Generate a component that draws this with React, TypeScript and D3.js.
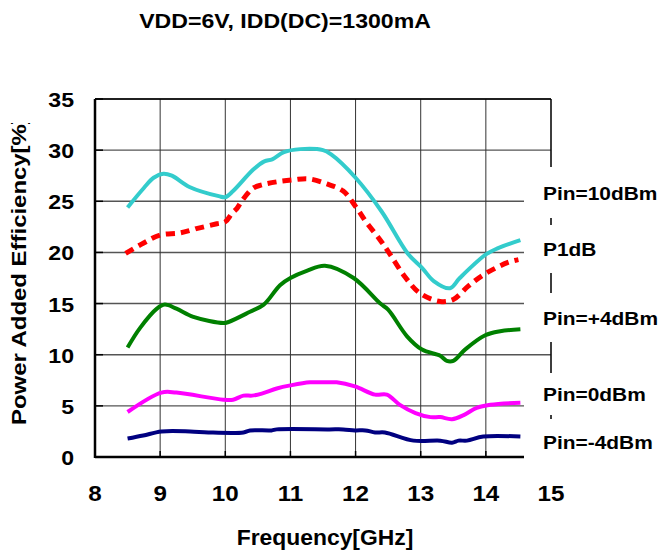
import React from "react";
import * as d3 from "d3";

const title = "VDD=6V, IDD(DC)=1300mA";
const xTitle = "Frequency[GHz]";
const yTitle = "Power Added Efficiency[%]";
const xTicks = [8, 9, 10, 11, 12, 13, 14, 15];
const yTicks = [0, 5, 10, 15, 20, 25, 30, 35];

const pin10F = [8.5, 8.75, 8.9, 9.05, 9.18, 9.45, 9.9, 10.0, 10.12, 10.43, 10.6, 10.72, 10.9, 11.15, 11.5, 11.62, 12.0, 12.4, 12.8, 13.02, 13.2, 13.45, 13.6, 14.0, 14.18, 14.53];
const pin10V = [24.4, 26.3, 27.3, 27.7, 27.5, 26.4, 25.5, 25.4, 26.0, 28.1, 28.9, 29.1, 29.8, 30.1, 30.0, 29.6, 27.3, 24.0, 19.9, 18.5, 17.2, 16.5, 17.5, 19.8, 20.4, 21.2];

const p1dbF = [8.47, 8.74, 9.0, 9.3, 9.54, 9.87, 10.0, 10.1, 10.18, 10.25, 10.43, 10.56, 10.79, 11.05, 11.28, 11.56, 11.81, 12.0, 12.17, 12.38, 12.53, 12.76, 12.99, 13.3, 13.5, 13.73, 13.96, 14.33, 14.5];
const p1dbV = [19.9, 20.9, 21.7, 21.9, 22.3, 22.8, 23.0, 23.8, 24.3, 25.0, 26.3, 26.6, 26.9, 27.1, 27.2, 26.7, 26.0, 24.5, 22.9, 21.2, 19.8, 17.6, 16.0, 15.2, 15.4, 16.7, 17.8, 19.0, 19.3];

const pin4F = [8.5, 8.69, 8.95, 9.07, 9.25, 9.51, 9.97, 10.05, 10.38, 10.59, 10.84, 11.0, 11.25, 11.53, 11.97, 12.38, 12.5, 12.79, 13.02, 13.3, 13.4, 13.5, 13.68, 13.99, 14.22, 14.53];
const pin4V = [10.7, 12.6, 14.5, 14.9, 14.5, 13.7, 13.1, 13.2, 14.2, 14.9, 16.8, 17.5, 18.2, 18.7, 17.5, 15.0, 14.4, 11.8, 10.5, 9.9, 9.4, 9.4, 10.5, 11.9, 12.3, 12.5];

const pin0F = [8.5, 9.02, 9.25, 9.97, 10.12, 10.28, 10.41, 10.56, 10.79, 11.0, 11.3, 11.58, 11.71, 11.99, 12.3, 12.48, 12.68, 12.92, 13.15, 13.3, 13.48, 13.66, 13.86, 14.07, 14.53];
const pin0V = [4.4, 6.3, 6.3, 5.6, 5.6, 6.0, 6.0, 6.2, 6.7, 7.0, 7.3, 7.3, 7.3, 6.9, 6.1, 6.1, 5.1, 4.3, 3.9, 3.9, 3.7, 4.1, 4.8, 5.1, 5.3];

const pinM4F = [8.5, 8.74, 9.02, 9.46, 9.74, 10.28, 10.38, 10.71, 10.79, 11.6, 11.81, 11.99, 12.15, 12.3, 12.45, 12.89, 13.3, 13.48, 13.58, 13.71, 13.96, 14.53];
const pinM4V = [1.8, 2.1, 2.5, 2.5, 2.4, 2.4, 2.6, 2.6, 2.7, 2.7, 2.7, 2.6, 2.6, 2.4, 2.4, 1.6, 1.6, 1.4, 1.6, 1.6, 2.0, 2.0];

const seriesNames = ["Pin=10dBm", "P1dB", "Pin=+4dBm", "Pin=0dBm", "Pin=-4dBm"];

const W = 661;
const H = 551;
const FONT = "Arial, 'Liberation Sans', Helvetica, sans-serif";

export default function App() {
  const x = d3.scaleLinear().domain([8, 15]).range([95, 551]);
  const y = d3.scaleLinear().domain([0, 35]).range([457, 99]);
  const line = d3
    .line<[number, number]>()
    .x((d) => x(d[0]))
    .y((d) => y(d[1]))
    .curve(d3.curveCatmullRom.alpha(0.5));
  const zip = (f: number[], v: number[]) => f.map((fi, i) => [fi, v[i]] as [number, number]);

  const series = [
    { name: seriesNames[0], data: zip(pin10F, pin10V), color: "#33CCCC", width: 4, dash: undefined as string | undefined },
    { name: seriesNames[1], data: zip(p1dbF, p1dbV), color: "#FF0000", width: 5, dash: "9,6" },
    { name: seriesNames[2], data: zip(pin4F, pin4V), color: "#008000", width: 4, dash: undefined },
    { name: seriesNames[3], data: zip(pin0F, pin0V), color: "#FF00FF", width: 4, dash: undefined },
    { name: seriesNames[4], data: zip(pinM4F, pinM4V), color: "#000080", width: 4, dash: undefined },
  ];

  const labelBoxes: [number, number][] = [
    [167, 218],
    [225, 273],
    [293, 342],
    [373, 415],
    [419, 465],
  ];

  const [x0, x1] = x.range();
  const [yb, yt] = y.range();
  const SX = 1.1;

  return (
    <svg
      width={W}
      height={H}
      style={{ position: "absolute", left: 0, top: 0, background: "#fff" }}
      fontFamily={FONT}
    >
      <defs>
        <clipPath id="ytclip">
          <rect x={0} y={123} width={60} height={400} />
        </clipPath>
      </defs>
      <rect x={0} y={0} width={W} height={H} fill="#fff" />
      <text transform={`translate(285,28) scale(${SX},1)`} textAnchor="middle" fontSize={21} fontWeight="bold">
        {title}
      </text>

      {/* gridlines */}
      {yTicks.map((t) => (
        <line key={"gy" + t} x1={x0} x2={x1} y1={y(t)} y2={y(t)} stroke="#555" strokeWidth={1.4} />
      ))}
      {xTicks.map((t) => (
        <line key={"gx" + t} x1={x(t)} x2={x(t)} y1={yt} y2={yb} stroke="#333" strokeWidth={1} />
      ))}
      {/* border */}
      <line x1={x0} x2={x1} y1={yt} y2={yt} stroke="#000" strokeWidth={1.5} />
      <line x1={x1} x2={x1} y1={yt} y2={yb} stroke="#000" strokeWidth={1.2} />
      <line x1={x0} x2={x0} y1={yt} y2={yb + 1} stroke="#000" strokeWidth={2.5} />
      <line x1={x0} x2={x1} y1={yb} y2={yb} stroke="#000" strokeWidth={2.5} />
      {xTicks.map((t) => (
        <line key={"tx" + t} x1={x(t)} x2={x(t)} y1={yb} y2={yb - 6} stroke="#000" strokeWidth={1.5} />
      ))}
      {yTicks.map((t) => (
        <line key={"ty" + t} x1={x0} x2={x0 + 8} y1={y(t)} y2={y(t)} stroke="#000" strokeWidth={1.5} />
      ))}

      {/* white label boxes */}
      {labelBoxes.map(([a, b], i) => (
        <rect key={"lb" + i} x={524} y={a} width={W - 524} height={b - a} fill="#fff" />
      ))}

      {/* series */}
      {series.map((s) => (
        <path
          key={s.name}
          d={line(s.data) || ""}
          fill="none"
          stroke={s.color}
          strokeWidth={s.width}
          strokeDasharray={s.dash}
          strokeLinejoin="round"
        />
      ))}

      {/* labels */}
      {series.map((s, i) => (
        <text
          key={"lt" + i}
          transform={`translate(543,${(labelBoxes[i][0] + labelBoxes[i][1]) / 2 + 7}) scale(${SX},1)`}
          fontSize={19}
          fontWeight="bold"
        >
          {s.name}
        </text>
      ))}

      {/* tick labels */}
      {xTicks.map((t) => (
        <text
          key={"xl" + t}
          transform={`translate(${x(t)},501) scale(${SX},1)`}
          textAnchor="middle"
          fontSize={22}
          fontWeight="bold"
        >
          {t}
        </text>
      ))}
      {yTicks.map((t) => (
        <text
          key={"yl" + t}
          transform={`translate(74,${y(t) + 8}) scale(${SX},1)`}
          textAnchor="end"
          fontSize={21}
          fontWeight="bold"
        >
          {t}
        </text>
      ))}
      <text transform={`translate(325,545) scale(1.04,1)`} textAnchor="middle" fontSize={22} fontWeight="bold">
        {xTitle}
      </text>
      <g clipPath="url(#ytclip)">
        <text
          transform={`translate(26,425) rotate(-90) scale(1.14,1)`}
          x={0}
          y={0}
          textAnchor="start"
          fontSize={21}
          fontWeight="bold"
        >
          {yTitle}
        </text>
      </g>
    </svg>
  );
}
